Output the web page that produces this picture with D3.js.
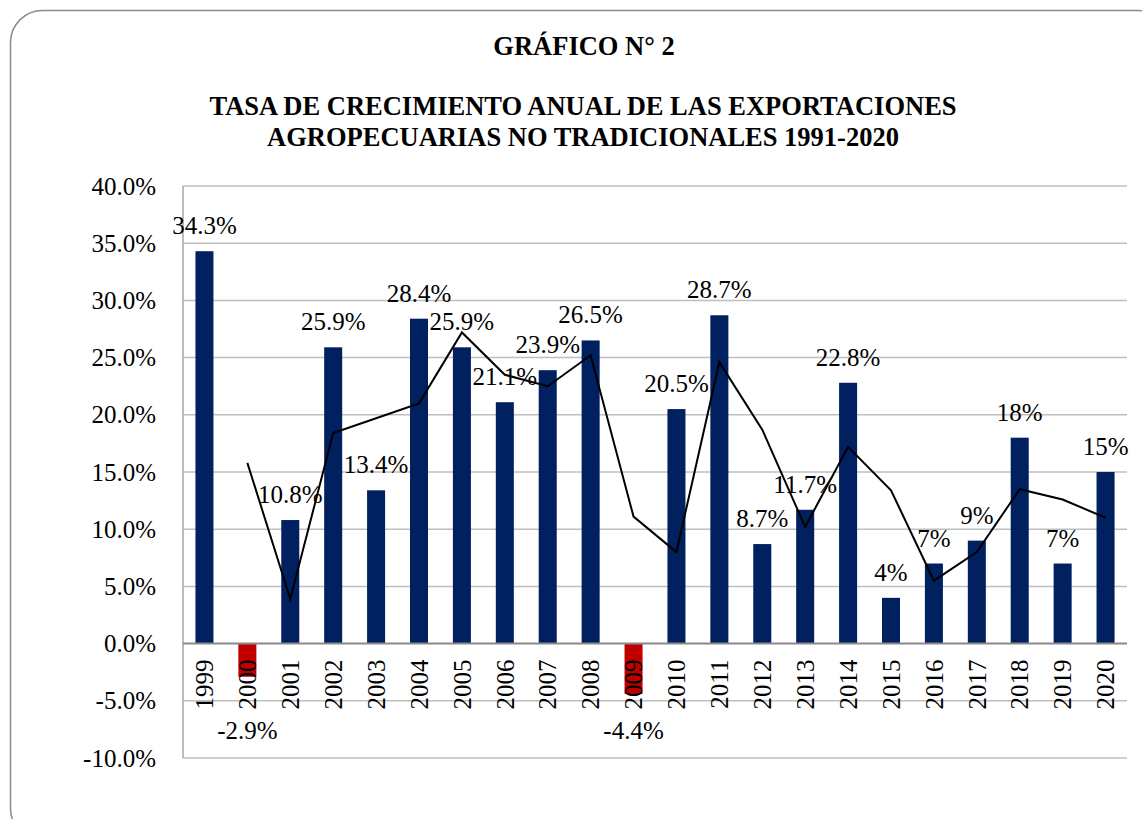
<!DOCTYPE html>
<html>
<head>
<meta charset="utf-8">
<script src="https://cdn.jsdelivr.net/npm/d3@7"></script>
<style>
  html, body { margin: 0; padding: 0; background: #fff; }
  svg { display: block; font-family: "Liberation Serif", "Times New Roman", serif; }
</style>
</head>
<body>
<svg id="chart" width="1142" height="819"></svg>
<script>
// ---- data ----
const years = ["1999","2000","2001","2002","2003","2004","2005","2006","2007","2008","2009","2010","2011","2012","2013","2014","2015","2016","2017","2018","2019","2020"];
const growth = [34.3,-2.9,10.8,25.9,13.4,28.4,25.9,21.1,23.9,26.5,-4.4,20.5,28.7,8.7,11.7,22.8,4,7,9,18,7,15];
const labels = ["34.3%","-2.9%","10.8%","25.9%","13.4%","28.4%","25.9%","21.1%","23.9%","26.5%","-4.4%","20.5%","28.7%","8.7%","11.7%","22.8%","4%","7%","9%","18%","7%","15%"];
const lineYears = ["2000","2001","2002","2003","2004","2005","2006","2007","2008","2009","2010","2011","2012","2013","2014","2015","2016","2017","2018","2019","2020"];
const lineValues = [15.8,3.9,18.4,19.7,21.0,27.2,23.5,22.5,25.2,11.1,8.0,24.6,18.7,10.2,17.2,13.4,5.5,8.0,13.5,12.6,11.0];
const yTicks = [40,35,30,25,20,15,10,5,0,-5,-10];
const titleLines = ["TASA DE CRECIMIENTO ANUAL DE LAS EXPORTACIONES", "AGROPECUARIAS NO TRADICIONALES 1991-2020"];
const heading = "GRÁFICO N° 2";

// ---- layout ----
const svg = d3.select("#chart");
const plot = { left: 183, right: 1127, top: 186, bottom: 758 };

svg.append("rect")
  .attr("x", 10.5).attr("y", 10.5)
  .attr("width", 1160).attr("height", 830)
  .attr("rx", 32).attr("ry", 32)
  .attr("fill", "#fff").attr("stroke", "#8c8c8c").attr("stroke-width", 1.5);

const x = d3.scaleBand().domain(years).range([plot.left, plot.right]).paddingInner(0.58).paddingOuter(0.29);
const y = d3.scaleLinear().domain([-10, 40]).range([plot.bottom, plot.top]);

// gridlines
svg.append("g").selectAll("line").data(yTicks.filter(d => d !== 0)).join("line")
  .attr("x1", plot.left).attr("x2", plot.right)
  .attr("y1", d => y(d)).attr("y2", d => y(d))
  .attr("stroke", "#bfbfbf").attr("stroke-width", 1.5);

// y axis line
svg.append("line")
  .attr("x1", plot.left).attr("x2", plot.left)
  .attr("y1", plot.top).attr("y2", plot.bottom)
  .attr("stroke", "#a6a6a6").attr("stroke-width", 1.5);

// y tick labels
const yAxis = d3.axisLeft(y).tickValues(yTicks).tickSize(0).tickPadding(27)
  .tickFormat(d => d.toFixed(1) + "%");
const ya = svg.append("g").attr("transform", `translate(${plot.left},0)`).call(yAxis);
ya.select(".domain").remove();
ya.selectAll("text").attr("font-size", 25).attr("font-family", "Liberation Serif").attr("fill", "#000");

// bars
svg.append("g").selectAll("rect").data(years).join("rect")
  .attr("x", d => x(d))
  .attr("width", x.bandwidth())
  .attr("y", (d, i) => y(Math.max(0, growth[i])))
  .attr("height", (d, i) => Math.abs(y(growth[i]) - y(0)))
  .attr("fill", (d, i) => growth[i] < 0 ? "#c00000" : "#002060");

// zero line
svg.append("line")
  .attr("x1", plot.left).attr("x2", plot.right)
  .attr("y1", y(0)).attr("y2", y(0))
  .attr("stroke", "#898989").attr("stroke-width", 2);

// category labels
const xAxis = d3.axisBottom(x).tickSize(0);
const xa = svg.append("g").attr("transform", `translate(0,${y(0)})`).call(xAxis);
xa.select(".domain").remove();
xa.selectAll("text")
  .attr("font-size", 25).attr("font-family", "Liberation Serif").attr("fill", "#000")
  .attr("transform", "translate(0,16) rotate(-90)")
  .attr("x", 0).attr("y", 0).attr("dy", "0.35em")
  .attr("text-anchor", "end");

// line series
const cx = d => x(d) + x.bandwidth() / 2;
const line = d3.line().x((d, i) => cx(lineYears[i])).y(d => y(d));
svg.append("path").datum(lineValues)
  .attr("d", line)
  .attr("fill", "none").attr("stroke", "#000").attr("stroke-width", 2);

// data labels
svg.append("g").selectAll("text").data(years).join("text")
  .attr("x", d => cx(d))
  .attr("y", (d, i) => growth[i] >= 0 ? y(growth[i]) - 17 : y(-8.3))
  .attr("text-anchor", "middle")
  .attr("font-size", 25).attr("fill", "#000")
  .text((d, i) => labels[i]);

// titles
svg.append("text").attr("x", 584).attr("y", 55).attr("text-anchor", "middle")
  .attr("font-size", 26.5).attr("font-weight", "bold").text(heading);
svg.append("g").selectAll("text").data(titleLines).join("text")
  .attr("x", 583).attr("y", (d, i) => 115 + i * 31)
  .attr("text-anchor", "middle")
  .attr("font-size", 26.5).attr("font-weight", "bold")
  .text(d => d);
</script>
</body>
</html>
